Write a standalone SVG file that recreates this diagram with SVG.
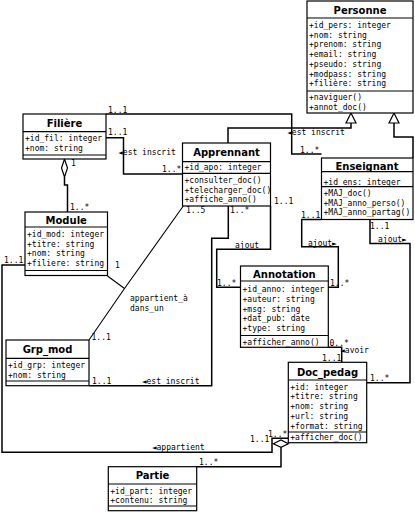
<svg xmlns="http://www.w3.org/2000/svg" width="415" height="512" viewBox="0 0 415 512">
<style>
.box{fill:#fff;stroke:#000;stroke-width:1.2}
.sep{stroke:#000;stroke-width:1.2;fill:none}
.t{font-family:"DejaVu Sans",sans-serif;font-weight:bold;font-size:10px;text-anchor:middle;fill:#000}
.m{font-family:"DejaVu Sans Mono",monospace;font-size:8px;fill:#000}
.c{fill:none;stroke:#000;stroke-width:1.5}
.h{fill:#fff;stroke:#000;stroke-width:1.2}
</style>
<rect width="415" height="512" fill="#fff"/>
<g id="connectors">
  <path class="c" d="M106,114 H291.7 V154 H321.5"/>
  <path class="c" d="M106,137.7 H123.5 V174 H182.5"/>
  <path class="c" d="M351,123 V128 H228 V143"/>
  <path class="c" d="M394,123 V137 H413 V158"/>
  <path class="c" d="M64.5,177 V185 H67.5 V212"/>
  <path class="c" d="M25,265 H2 V452.3 H272 V438.3 H288.3"/>
  <path class="c" d="M196.7,466.7 H281 V447.3"/>
  <path class="c" d="M328.3,347.3 H341.7 V362.3"/>
  <path class="c" d="M321.5,219.5 H301.7 V246.7 H338.3 V287.3 H328.3"/>
  <path class="c" d="M370,219.5 V243.5 H410 V382.7 H366.7"/>
  <path class="c" d="M270.5,206 V249.3 H216.7 V287.3 H240.5"/>
  <path class="c" d="M228.3,206 V238.3 H211.7 V385.7 H89"/>
  <path class="c" style="stroke-width:1.1" d="M183.3,206 L124.5,288.5 L89,340 M107.5,276 L124.5,288.5"/>
  <polygon class="h" points="351,113 346,123 356,123"/>
  <polygon class="h" points="394,113 389,123 399,123"/>
  <polygon class="h" points="64.5,159 61.5,168 64.5,177 67.5,168"/>
  <polygon class="h" points="273.3,443.7 281,440 288.3,443.7 281,447.3"/>
  <g class="m">
    <text x="108" y="112.5">1..1</text>
    <text x="300" y="152.5">1..*</text>
    <text x="108" y="134.5">1..1</text>
    <text x="118" y="154.5">◄est inscrit</text>
    <text x="162" y="171.5">1..*</text>
    <text x="287" y="134.5">◄est inscrit</text>
    <text x="71" y="166">1</text>
    <text x="70" y="209.5">1..*</text>
    <text x="4" y="262.5">1..1</text>
    <text x="250" y="442">1..1</text>
    <text x="268" y="437">1..*</text>
    <text x="151.7" y="450">◄appartient</text>
    <text x="199" y="464.5">1..*</text>
    <text x="329.5" y="345.5">0..*</text>
    <text x="340" y="353">◄avoir</text>
    <text x="322" y="360.5">1..1</text>
    <text x="301" y="217.5">1..1</text>
    <text x="308" y="245.5">ajout►</text>
    <text x="330" y="286">1..*</text>
    <text x="370" y="229">1..1</text>
    <text x="378" y="242">ajout►</text>
    <text x="370" y="380.5">1..*</text>
    <text x="274" y="204">1..1</text>
    <text x="235" y="247.5">ajout</text>
    <text x="217" y="286">1..*</text>
    <text x="230" y="213">1..*</text>
    <text x="92" y="384">1..1</text>
    <text x="141.7" y="384">◄est inscrit</text>
    <text x="186" y="213">1..5</text>
    <text x="115" y="268">1</text>
    <text x="91.5" y="340">1..1</text>
    <text x="130" y="301">appartient_à</text>
    <text x="130" y="311">dans_un</text>
  </g>
</g>
<g id="Personne">
  <rect class="box" x="307" y="1" width="106" height="112"/>
  <path class="sep" d="M307,18 H413 M307,91 H413"/>
  <text class="t" x="360" y="14">Personne</text>
  <g class="m">
    <text x="309" y="28">+id_pers: integer</text>
    <text x="309" y="37.7">+nom: string</text>
    <text x="309" y="47.4">+prenom: string</text>
    <text x="309" y="57.1">+email: string</text>
    <text x="309" y="66.8">+pseudo: string</text>
    <text x="309" y="76.5">+modpass: string</text>
    <text x="309" y="86.2">+filière: string</text>
    <text x="309" y="100.3">+naviguer()</text>
    <text x="309" y="109.5">+annot_doc()</text>
  </g>
</g>
<g id="Filiere">
  <rect class="box" x="23" y="114" width="83" height="45"/>
  <path class="sep" d="M23,131.7 H106 M23,155 H106"/>
  <text class="t" x="64.5" y="126.5">Filière</text>
  <g class="m">
    <text x="25" y="140.7">+id_fil: integer</text>
    <text x="25" y="150.5">+nom: string</text>
  </g>
</g>
<g id="Apprennant">
  <rect class="box" x="182.5" y="143" width="88" height="63"/>
  <path class="sep" d="M182.5,161.7 H270.5 M182.5,173.3 H270.5"/>
  <text class="t" x="226.5" y="156">Apprennant</text>
  <g class="m">
    <text x="184.5" y="170">+id_apo: integer</text>
    <text x="184.5" y="183">+consulter_doc()</text>
    <text x="184.5" y="192.7">+telecharger_doc()</text>
    <text x="184.5" y="202.4">+affiche_anno()</text>
  </g>
</g>
<g id="Enseignant">
  <rect class="box" x="321.5" y="158" width="91.5" height="61.5"/>
  <path class="sep" d="M321.5,171.7 H413 M321.5,186.7 H413"/>
  <text class="t" x="367" y="169.5">Enseignant</text>
  <g class="m">
    <text x="323.5" y="184.5">+id_ens: integer</text>
    <text x="323.5" y="196.3">+MAJ_doc()</text>
    <text x="323.5" y="205.7">+MAJ_anno_perso()</text>
    <text x="323.5" y="215">+MAJ_anno_partag()</text>
  </g>
</g>
<g id="Module">
  <rect class="box" x="25" y="212" width="82.5" height="63.5"/>
  <path class="sep" d="M25,227 H107.5 M25,270.5 H107.5"/>
  <text class="t" x="66.2" y="224">Module</text>
  <g class="m">
    <text x="27" y="237">+id_mod: integer</text>
    <text x="27" y="246.7">+titre: string</text>
    <text x="27" y="256.4">+nom: string</text>
    <text x="27" y="266.1">+filiere: string</text>
  </g>
</g>
<g id="Annotation">
  <rect class="box" x="240.5" y="266" width="87.8" height="81.3"/>
  <path class="sep" d="M240.5,281 H328.3 M240.5,335.5 H328.3"/>
  <text class="t" x="284.4" y="277.5">Annotation</text>
  <g class="m">
    <text x="242.5" y="292.3">+id_anno: integer</text>
    <text x="242.5" y="302">+auteur: string</text>
    <text x="242.5" y="311.7">+msg: string</text>
    <text x="242.5" y="321.4">+dat_pub: date</text>
    <text x="242.5" y="331.1">+type: string</text>
    <text x="242.5" y="344.5">+afficher_anno()</text>
  </g>
</g>
<g id="Grp_mod">
  <rect class="box" x="6" y="340" width="83" height="45.7"/>
  <path class="sep" d="M6,358.3 H89 M6,381 H89"/>
  <text class="t" x="47.5" y="353">Grp_mod</text>
  <g class="m">
    <text x="8" y="368">+id_grp: integer</text>
    <text x="8" y="377.7">+nom: string</text>
  </g>
</g>
<g id="Doc_pedag">
  <rect class="box" x="288.3" y="362.3" width="78.4" height="80.4"/>
  <path class="sep" d="M288.3,380 H366.7 M288.3,432 H366.7"/>
  <text class="t" x="327.5" y="375.5">Doc_pedag</text>
  <g class="m">
    <text x="290.3" y="389.5">+id: integer</text>
    <text x="290.3" y="399.4">+titre: string</text>
    <text x="290.3" y="409.3">+nom: string</text>
    <text x="290.3" y="419.2">+url: string</text>
    <text x="290.3" y="429.1">+format: string</text>
    <text x="290.3" y="440.3">+afficher_doc()</text>
  </g>
</g>
<g id="Partie">
  <rect class="box" x="108.3" y="466.7" width="88.4" height="44"/>
  <path class="sep" d="M108.3,484 H196.7 M108.3,506 H196.7"/>
  <text class="t" x="152.5" y="479">Partie</text>
  <g class="m">
    <text x="110.3" y="493.7">+id_part: integer</text>
    <text x="110.3" y="503">+contenu: string</text>
  </g>
</g>
</svg>
